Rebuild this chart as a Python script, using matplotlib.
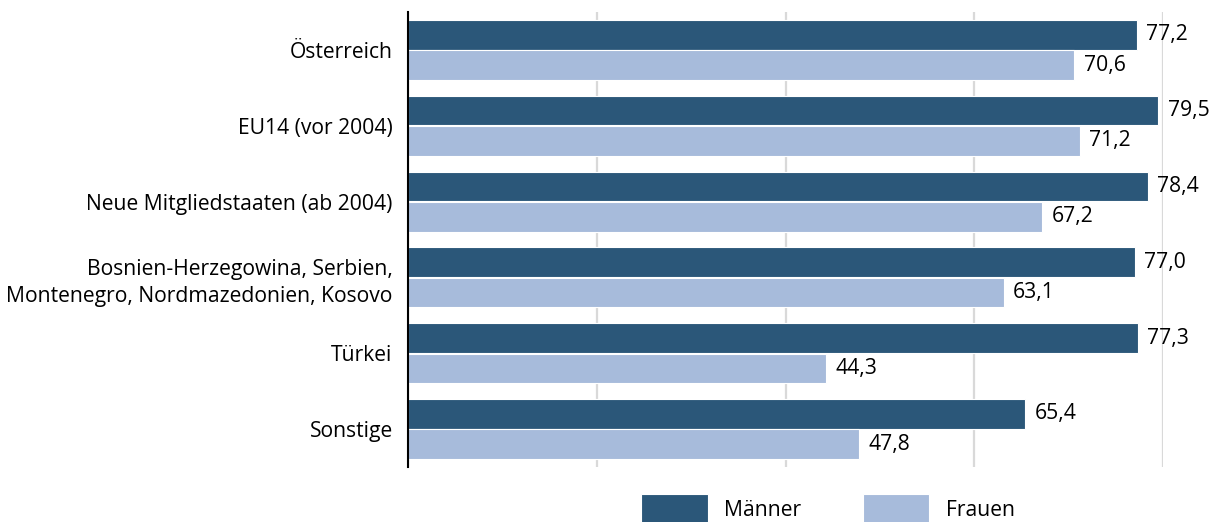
import matplotlib.pyplot as plt
import numpy as np

plt.rcParams['font.family'] = ['Open Sans', 'DejaVu Sans']

categories = ['Österreich', 'EU14 (vor 2004)', 'Neue Mitgliedstaaten (ab 2004)',
              'Bosnien-Herzegowina, Serbien,\nMontenegro, Nordmazedonien, Kosovo',
              'Türkei', 'Sonstige']
maenner = [77.2, 79.5, 78.4, 77.0, 77.3, 65.4]
frauen = [70.6, 71.2, 67.2, 63.1, 44.3, 47.8]

dark = '#2b5779'
light = '#a7bbdb'
fs = 15.2

fig = plt.figure(figsize=(12.15, 5.22), dpi=100)
ax = fig.add_axes([408 / 1215, 1 - 467 / 522, (1163 - 408) / 1215, (467 - 12) / 522])

y = np.arange(len(categories))
h = 0.39
b1 = ax.barh(y - 0.2, maenner, height=h, color=dark, edgecolor='white', linewidth=0.8, label='Männer', zorder=3)
b2 = ax.barh(y + 0.2, frauen, height=h, color=light, edgecolor='white', linewidth=0.8, label='Frauen', zorder=3)

for bars, vals in ((b1, maenner), (b2, frauen)):
    for r, v in zip(bars, vals):
        ax.text(v + 1.0, r.get_y() + r.get_height() / 2, f'{v:.1f}'.replace('.', ','),
                va='center', ha='left', fontsize=fs, clip_on=False)

ax.set_xlim(0, 80)
ax.set_ylim(len(categories) - 0.5, -0.5)
ax.set_xticks([0, 20, 40, 60, 80])
ax.set_xticklabels([])
ax.grid(axis='x', color='#d9d9d9', linewidth=1.6, zorder=0)
ax.set_yticks(y)
ax.set_yticklabels(categories, fontsize=fs, ha='right', multialignment='right', linespacing=1.35)
ax.tick_params(axis='y', length=0, pad=11)
ax.tick_params(axis='x', length=0)
for s in ('top', 'right', 'bottom'):
    ax.spines[s].set_visible(False)
ax.spines['left'].set_linewidth(1.5)
ax.spines['left'].set_zorder(4)

fig.legend(loc='upper left', bbox_to_anchor=(641 / 1215, 1 - 494 / 522), frameon=False,
           ncol=2, fontsize=fs, handlelength=3.15, handleheight=1.9,
           handletextpad=0.8, columnspacing=2.9, borderpad=0, borderaxespad=0)

fig.savefig('out.png', dpi=100)
